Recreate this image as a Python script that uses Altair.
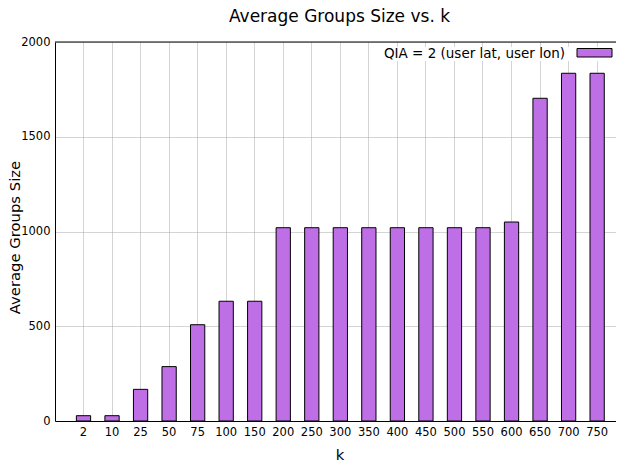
import altair as alt
import pandas as pd

# ---- data ----
k_labels = ["2", "10", "25", "50", "75", "100", "150", "200", "250", "300",
            "350", "400", "450", "500", "550", "600", "650", "700", "750"]
avg_size = [28, 28, 167, 287, 508, 632, 632, 1020, 1020, 1020,
            1020, 1020, 1020, 1020, 1020, 1050, 1703, 1835, 1835]
y_ticks = [0, 500, 1000, 1500, 2000]
series_name = "QIA = 2 (user lat, user lon)"
chart_title = "Average Groups Size vs. k"

df = pd.DataFrame({"k": k_labels, "size": avg_size})
one = pd.DataFrame({"a": [0]})

W, H = 561, 379          # visible plot area (page is 624 wide)
X_RANGE = 569            # the reference's x range runs a little past the page edge
FONT = "DejaVu Sans"
FILL = "#bf6fe6"
GRID = "#a8a8a8"

x = alt.X(
    "k:N", sort=k_labels,
    scale=alt.Scale(paddingInner=0.5, paddingOuter=0.72, align=0.52, range=[0, X_RANGE]),
    axis=alt.Axis(
        title="k", labelAngle=0, ticks=False, labelPadding=5,
        labelFont=FONT, labelFontSize=11.5, labelColor="black",
        titleFont=FONT, titleFontSize=14.8, titleFontWeight="normal", titleColor="black",
        titleX=284.5, titleY=38, titleBaseline="alphabetic",
        grid=True, gridColor=GRID, gridDash=[1, 1], gridWidth=1,
        domainColor="black", domainWidth=1, bandPosition=0.5,
    ),
)
y = alt.Y(
    "size:Q",
    scale=alt.Scale(domain=[0, 2000], nice=False),
    axis=alt.Axis(
        title="Average Groups Size", values=y_ticks, format="d", ticks=False, labelPadding=5,
        labelFont=FONT, labelFontSize=11.5, labelColor="black",
        titleFont=FONT, titleFontSize=14.8, titleFontWeight="normal", titleColor="black",
        titleX=-40, titleY=195, titleBaseline="middle", titleAngle=270,
        grid=True, gridColor=GRID, gridDash=[1, 1], gridWidth=1,
        domainColor="black", domainWidth=1,
    ),
)

bars = alt.Chart(df).mark_bar(fill=FILL, stroke="black", strokeWidth=1).encode(x=x, y=y)

top_border = alt.Chart(one).mark_rule(color="black", strokeWidth=1).encode(
    x=alt.value(0), x2=alt.value(W), y=alt.value(0)
)

title_text = alt.Chart(one).mark_text(
    align="center", baseline="alphabetic", font=FONT, fontSize=17, color="black"
).encode(x=alt.value(284.5), y=alt.value(-20), text=alt.value(chart_title))

legend_bg = alt.Chart(one).mark_rect(fill="white").encode(
    x=alt.value(326), x2=alt.value(561), y=alt.value(5), y2=alt.value(19)
)
legend_text = alt.Chart(one).mark_text(
    align="right", baseline="middle", font=FONT, fontSize=13.5, color="black"
).encode(x=alt.value(510), y=alt.value(11.5), text=alt.value(series_name))
legend_swatch = alt.Chart(one).mark_rect(fill=FILL, stroke="black", strokeWidth=1).encode(
    x=alt.value(522), x2=alt.value(557), y=alt.value(6.5), y2=alt.value(15)
)

chart = alt.layer(
    bars, top_border, title_text, legend_bg, legend_text, legend_swatch
).properties(
    width=W, height=H,
    autosize=alt.AutoSizeParams(type="none"),
    padding={"left": 47, "top": 34, "right": 0, "bottom": 39},
).configure_view(stroke=None)

chart.save("out.html", embed_options={"renderer": "svg", "actions": False})
